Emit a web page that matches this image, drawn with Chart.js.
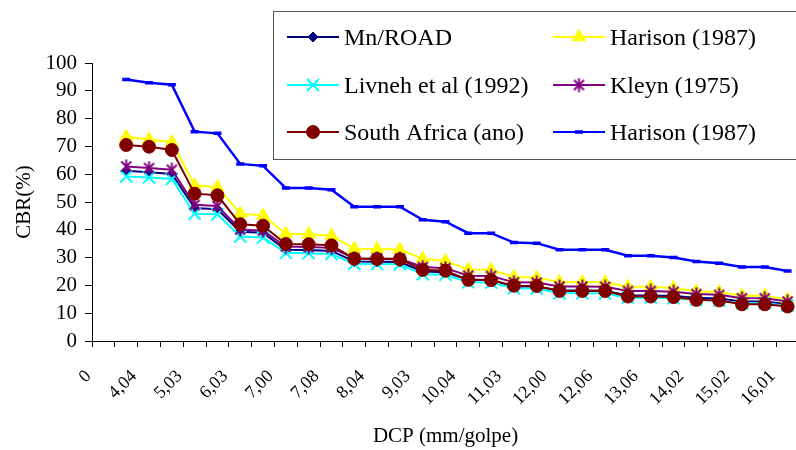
<!DOCTYPE html>
<html><head><meta charset="utf-8">
<script src="https://cdn.jsdelivr.net/npm/chart.js@4.4.0/dist/chart.umd.min.js"></script>
<style>html,body{margin:0;padding:0;overflow:hidden;background:#fff;width:796px;height:450px}canvas{display:block}</style>
</head><body>
<canvas id="c" width="800" height="450" style="width:800px;height:450px"></canvas>
<script>
// Tick labels shown under every second category (DCP, mm/golpe)
const tickLabels = ['0','4,04','5,03','6,03','7,00','7,08','8,04','9,03','10,04','11,03','12,00','12,06','13,06','14,02','15,02','16,01'];
// CBR (%) series, one value per category (first category has no data)
const mnroad      = [null,61.2,60.7,60.1,47.8,47.4,39.3,38.9,32.8,32.7,32.4,28.6,28.5,28.4,25.0,24.7,22.0,21.9,19.6,19.5,18.2,18.2,18.1,16.4,16.4,16.2,15.6,15.3,14.2,14.2,13.2];
const harisonY    = [null,73.5,72.5,71.5,56.0,55.3,45.8,45.1,38.6,38.4,37.9,33.2,33.1,32.9,29.6,28.8,25.7,25.6,23.0,22.8,21.2,21.2,21.1,19.5,19.5,19.1,17.9,17.6,16.3,16.3,15.0];
const livneh      = [null,59.2,58.8,58.3,45.8,45.6,37.6,37.2,31.7,31.6,31.3,27.8,27.7,27.6,24.0,23.8,21.1,21.0,19.0,18.9,17.2,17.2,17.1,15.6,15.6,15.4,14.8,14.5,13.6,13.6,12.7];
const kleyn       = [null,62.8,62.2,61.6,49.0,48.6,40.1,39.7,34.0,33.8,33.5,29.8,29.7,29.6,26.6,26.2,23.5,23.4,21.1,21.0,19.6,19.6,19.5,18.0,18.0,17.7,16.9,16.6,15.4,15.4,14.2];
const southAfrica = [null,70.5,69.9,68.7,53.0,52.4,42.0,41.5,34.9,34.8,34.4,29.6,29.5,29.4,25.6,25.3,22.0,21.9,19.9,19.8,18.0,18.0,18.0,16.0,16.0,15.8,14.8,14.6,13.2,13.2,12.4];
const harisonB    = [null,94.1,92.9,92.2,75.3,74.7,63.7,63.0,55.0,55.0,54.4,48.3,48.3,48.3,43.6,42.9,38.8,38.8,35.4,35.2,32.8,32.8,32.8,30.7,30.7,30.0,28.6,28.0,26.6,26.6,25.2];

const categories = [];
for (let i = 0; i < mnroad.length; i++) categories.push(i % 2 === 0 ? tickLabels[i / 2] : '');

const FONT = '"Liberation Serif", "Times New Roman", serif';

// star marker (X plus vertical bar) like the spreadsheet "*" marker
function makeStar(color){
  const c = document.createElement('canvas'); c.width = 15; c.height = 15;
  const g = c.getContext('2d'); g.strokeStyle = color; g.lineWidth = 2;
  g.beginPath();
  g.moveTo(7.5,0.5); g.lineTo(7.5,14.5);
  g.moveTo(2.5,2.5); g.lineTo(12.5,12.5);
  g.moveTo(12.5,2.5); g.lineTo(2.5,12.5);
  g.stroke();
  return c;
}
const starImg = makeStar('#800080');

const datasets = [
  {label:'Mn/ROAD', data:mnroad, borderColor:'#000080', backgroundColor:'#000080', pointStyle:'rectRot', pointRadius:5, pointBorderWidth:1, borderWidth:2, order:6},
  {label:'Harison (1987)', data:harisonY, borderColor:'#FFFF00', backgroundColor:'#FFFF00', pointStyle:'triangle', pointRadius:7.5, pointBorderWidth:1, borderWidth:2, order:5},
  {label:'Livneh et al (1992)', data:livneh, borderColor:'#00FFFF', backgroundColor:'#00FFFF', pointStyle:'crossRot', pointRadius:8.5, pointBorderWidth:2, borderWidth:2, order:4},
  {label:'Kleyn (1975)', data:kleyn, borderColor:'#800080', backgroundColor:'#800080', pointStyle:starImg, pointRadius:7, pointBorderWidth:2, borderWidth:2, order:3},
  {label:'South Africa (ano)', data:southAfrica, borderColor:'#800000', backgroundColor:'#800000', pointStyle:'circle', pointRadius:6.5, pointBorderWidth:1, borderWidth:2, order:2},
  {label:'Harison (1987)', data:harisonB, borderColor:'#0000FF', backgroundColor:'#0000FF', pointStyle:'line', pointRadius:4, pointBorderWidth:3.5, borderWidth:2.5, order:1}
];
datasets.forEach(d => { d.tension = 0; d.fill = false; d.pointBackgroundColor = d.backgroundColor; d.pointBorderColor = d.borderColor; });

const boxLegend = {
  id:'boxLegend',
  afterDraw(chart){
    const ctx = chart.ctx;
    ctx.save();
    ctx.fillStyle = '#fff'; ctx.fillRect(273, 11, 540, 148);
    ctx.strokeStyle = '#555'; ctx.lineWidth = 1; ctx.strokeRect(273.5, 11.5, 540, 148);
    const cols = [287, 553], rows = [37, 85, 132];
    chart.data.datasets.forEach((ds, i) => {
      const x0 = cols[i % 2], y = rows[Math.floor(i / 2)];
      ctx.strokeStyle = ds.borderColor; ctx.lineWidth = 2;
      ctx.beginPath(); ctx.moveTo(x0, y); ctx.lineTo(x0 + 52, y); ctx.stroke();
      ctx.fillStyle = ds.backgroundColor; ctx.strokeStyle = ds.borderColor; ctx.lineWidth = ds.pointBorderWidth;
      Chart.helpers.drawPoint(ctx, {pointStyle: ds.pointStyle, radius: ds.pointRadius, rotation: 0, borderWidth: ds.pointBorderWidth}, x0 + 26, y);
      ctx.fillStyle = '#000'; ctx.font = '24px ' + FONT; ctx.textBaseline = 'alphabetic'; ctx.textAlign = 'left';
      ctx.fillText(ds.label, x0 + 57, y + 8);
    });
    ctx.restore();
  }
};

new Chart(document.getElementById('c'), {
  type:'line',
  data:{labels:categories, datasets:datasets},
  options:{
    responsive:false, animation:false, events:[],
    layout:{autoPadding:false, padding:{left:0, right:1, top:63, bottom:0}},
    plugins:{legend:{display:false}, tooltip:{enabled:false}},
    scales:{
      x:{
        type:'category', offset:true,
        grid:{display:true, drawOnChartArea:false, drawTicks:true, tickLength:6, color:'#000', offset:true},
        border:{display:true, color:'#000', width:1},
        ticks:{autoSkip:false, maxRotation:45, minRotation:45, color:'#000', font:{family:FONT, size:18}, padding:19, labelOffset:-15},
        title:{display:true, text:'DCP (mm/golpe)', color:'#000', font:{family:FONT, size:21}, padding:{top:0, bottom:1}},
        afterFit(s){ s.height = 109; s.paddingLeft = 0; s.paddingRight = 0; }
      },
      y:{
        min:0, max:100,
        grid:{display:true, drawOnChartArea:false, drawTicks:true, tickLength:7, color:'#000'},
        border:{display:true, color:'#000', width:1},
        ticks:{stepSize:10, autoSkip:false, color:'#000', font:{family:FONT, size:21}, padding:8},
        title:{display:true, text:'CBR(%)', color:'#000', font:{family:FONT, size:21}, padding:{top:12, bottom:0}},
        afterFit(s){ s.width = 92; s.paddingTop = 0; s.paddingBottom = 0; }
      }
    }
  },
  plugins:[boxLegend]
});
</script>
</body></html>
